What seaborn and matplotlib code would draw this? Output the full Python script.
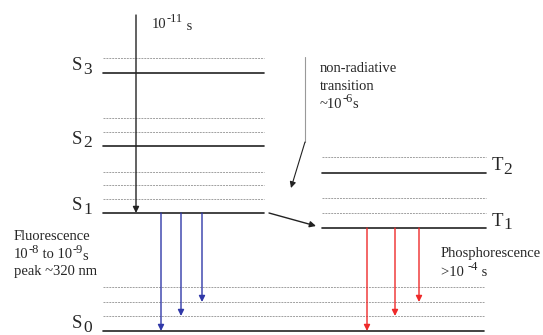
import numpy as np
import pandas as pd
import matplotlib
matplotlib.use('Agg')
import matplotlib.pyplot as plt
import seaborn as sns

# Energy levels (pixel-like diagram units, y grows downward)
level_names = ['S0', 'S1', 'S2', 'S3', 'T1', 'T2']
level_y = [331, 213, 146, 73, 228, 173]
level_x0 = [103, 103, 103, 103, 322, 322]
level_x1 = [484, 264, 264, 264, 486, 486]

# Vibrational sublevels (dashed) per electronic level
vib_y = {
    'S0': [287, 302, 316],
    'S1': [172, 185, 199],
    'S2': [118, 132],
    'S3': [58],
    'T1': [198, 213],
    'T2': [157],
}

# Transitions
absorb_x = 136
absorb_from = 15
fluor_x = [161, 181, 202]
fluor_to = [331, 316, 302]
phos_x = [367, 395, 419]
phos_to = [331, 316, 302]
isc_start = (269, 213)
isc_end = (316, 226)
nonrad_path = [(305, 57), (305, 142)]
nonrad_end = (291, 188)

BLUE = '#3038a8'
RED = '#ee2a2a'
DARK = '#222222'

sns.set_theme(style='white')
plt.rcParams['font.family'] = ['Liberation Serif', 'DejaVu Serif']

# Build long table of level segments
rows = []
for i, name in enumerate(level_names):
    for x in (level_x0[i], level_x1[i]):
        rows.append(dict(seg=f'{name}_main', kind='main', x=x, y=level_y[i]))
    for j, vy in enumerate(vib_y[name]):
        for x in (level_x0[i], level_x1[i]):
            rows.append(dict(seg=f'{name}_v{j}', kind='vib', x=x, y=vy))
df = pd.DataFrame(rows)

fig = plt.figure(figsize=(5.43, 3.35), dpi=100)
ax = fig.add_axes([0, 0, 1, 1])

sns.lineplot(data=df[df.kind == 'vib'], x='x', y='y', units='seg',
             estimator=None, sort=False, color='#a0a0a0', lw=0.7,
             dashes=False, legend=False, ax=ax)
for line in ax.lines:
    line.set_dashes([2.0, 1.0])
sns.lineplot(data=df[df.kind == 'main'], x='x', y='y', units='seg',
             estimator=None, sort=False, color=DARK, lw=1.2,
             legend=False, ax=ax)
ax.set_xlim(0, 543)
ax.set_ylim(335, 0)
ax.axis('off')


def arrow(x0, y0, x1, y1, color, lw=1.0):
    ax.annotate('', xy=(x1, y1), xytext=(x0, y0),
                arrowprops=dict(arrowstyle='-|>', color=color, lw=lw,
                                mutation_scale=9, shrinkA=0, shrinkB=0))


y_of = dict(zip(level_names, level_y))

# absorption
arrow(absorb_x, absorb_from, absorb_x, y_of['S1'], DARK)
# fluorescence
for x, yt in zip(fluor_x, fluor_to):
    arrow(x, y_of['S1'], x, yt, BLUE)
# phosphorescence
for x, yt in zip(phos_x, phos_to):
    arrow(x, y_of['T1'], x, yt, RED)
# intersystem crossing
arrow(*isc_start, *isc_end, DARK)
# non-radiative pointer
px, py = zip(*nonrad_path)
ax.plot(px, py, color='#999999', lw=0.8)
arrow(px[-1], py[-1], *nonrad_end, DARK, lw=0.8)

renderer = fig.canvas.get_renderer()


def rich(x, y, parts, fs=10.5):
    """Write text pieces one after another; superscripts get dy < 0."""
    for txt, dy in parts:
        size = fs if dy >= 0 else fs * 0.85
        t = ax.text(x, y + dy, txt, fontsize=size, ha='left', va='center')
        x += t.get_window_extent(renderer).width


# level labels
for name, y in zip(level_names, level_y):
    x = 72 if name.startswith('S') else 492
    ax.text(x, y - 7, name[0], fontsize=13.5, ha='left', va='center')
    ax.text(x + 11, y - 3, name[1], fontsize=12.5, ha='left', va='center')

rich(152, 25, [('10', 0), ('-11', -6), (' s', 2)])
rich(320, 68, [('non-radiative', 0)])
rich(320, 86, [('transition', 0)])
rich(320, 104, [('~10', 0), ('-6', -5), ('s', 1)])
rich(14, 237, [('Fluorescence', 0)])
rich(14, 255, [('10', 0), ('-8', -5), (' to 10', 0), ('-9', -5), ('s', 1)])
rich(14, 272, [('peak ~320 nm', 0)])
rich(441, 253, [('Phosphorescence', 0)])
rich(441, 272, [('>10 ', 0), ('-4', -5), (' s', 1)])

fig.savefig('out.png', dpi=100)
